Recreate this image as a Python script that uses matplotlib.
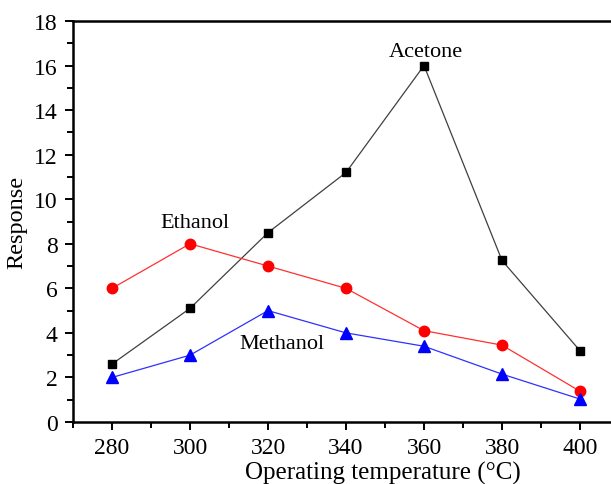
import matplotlib
matplotlib.use("Agg")
import matplotlib.pyplot as plt
from matplotlib.ticker import MultipleLocator

plt.rcParams['font.family'] = ['Liberation Serif', 'DejaVu Serif']

temperature = [280, 300, 320, 340, 360, 380, 400]
acetone = [2.6, 5.1, 8.5, 11.2, 16.0, 7.25, 3.2]
ethanol = [6.0, 8.0, 7.0, 6.0, 4.1, 3.45, 1.38]
methanol = [2.0, 3.0, 5.0, 4.0, 3.4, 2.15, 1.03]

W, H = 611, 485
fig = plt.figure(figsize=(W / 100, H / 100), dpi=100)
# axes box in pixel coordinates (left, top, right, bottom)
left, top, right, bottom = 73, 22, 619, 423
ax = fig.add_axes([left / W, 1 - bottom / H, (right - left) / W, (bottom - top) / H])

ax.plot(temperature, acetone, color='#404040', lw=0.9, marker='s', ms=6,
        mfc='black', mec='black', zorder=3)
ax.plot(temperature, ethanol, color='#ff3030', lw=0.9, marker='o', ms=7.5,
        mfc='red', mec='red', zorder=3)
ax.plot(temperature, methanol, color='#3030ff', lw=0.9, marker='^', ms=8,
        mfc='blue', mec='blue', zorder=3)

ax.text(360.5, 16.45, 'Acetone', fontsize=16, ha='center', va='baseline')
ax.text(301.3, 8.75, 'Ethanol', fontsize=16, ha='center', va='baseline')
ax.text(323.6, 3.3, 'Methanol', fontsize=16, ha='center', va='baseline')

ax.set_xlim(270, 410)
ax.set_ylim(0, 18)
ax.xaxis.set_major_locator(MultipleLocator(20))
ax.xaxis.set_minor_locator(MultipleLocator(10))
ax.yaxis.set_major_locator(MultipleLocator(2))
ax.yaxis.set_minor_locator(MultipleLocator(1))
ax.set_xticks([280, 300, 320, 340, 360, 380, 400])

for s in ax.spines.values():
    s.set_linewidth(1.8)
ax.tick_params(which='major', direction='out', length=6, width=1.4, labelsize=17, pad=5)
ax.tick_params(which='minor', direction='out', length=4, width=1.4)
ax.tick_params(top=False, right=False, which='both')

ax.set_xlabel('Operating temperature (°C)', fontsize=18, va='baseline')
ax.xaxis.set_label_coords(0.568, -0.142)
ax.set_ylabel('Response', fontsize=17.5)
ax.yaxis.set_label_coords(-0.084, 0.5)

fig.savefig('out.png', dpi=100)
